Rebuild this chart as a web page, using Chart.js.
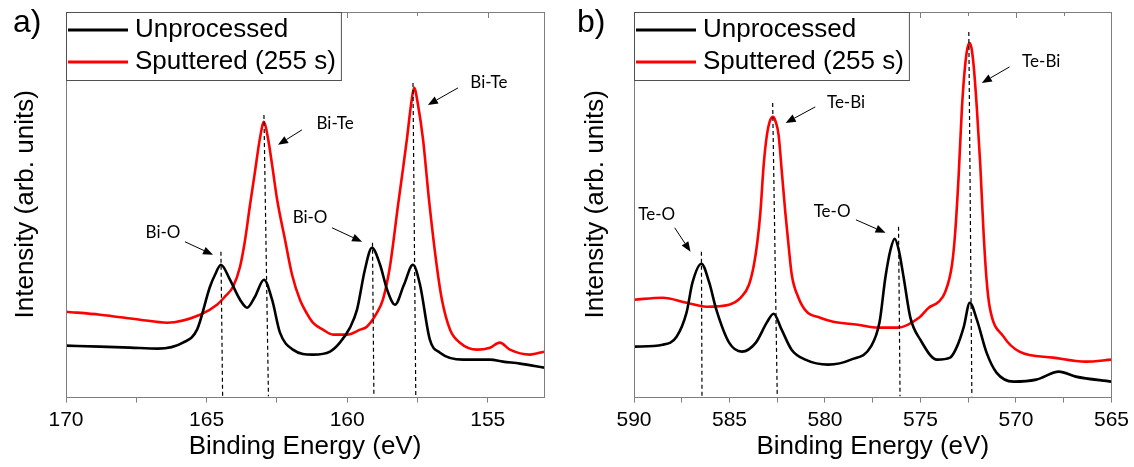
<!DOCTYPE html>
<html>
<head>
<meta charset="utf-8"/>
<title>XPS Bi 4f / Te 3d - unprocessed vs sputtered</title>
<script src="https://cdn.jsdelivr.net/npm/chart.js@4.4.1/dist/chart.umd.min.js"></script>
<style>
  html, body { margin: 0; padding: 0; background: #fff; }
  #wrap { position: relative; width: 1134px; height: 467px; }
  canvas { position: absolute; top: 0; }
  #panelA { left: 0; }
  #panelB { left: 567px; }
</style>
</head>
<body>
<div id="wrap">
  <canvas id="panelA" width="567" height="467"></canvas>
  <canvas id="panelB" width="567" height="467"></canvas>
</div>
<script>
// ---- panel a) Bi 4f ----
const biUnprocE = [170.0, 168.79, 167.72, 166.73, 165.84, 165.34, 164.88, 164.70, 164.49, 164.17, 163.81, 163.56, 163.28, 162.96, 162.67, 162.39, 161.93, 161.22, 160.61, 160.26, 159.90, 159.65, 159.37, 159.12, 158.83, 158.58, 158.30, 157.98, 157.66, 157.41, 157.06, 156.70, 155.88, 154.92, 154.46, 153.85, 153.0];
const biUnprocI = [54, 53, 52, 51, 57, 70, 113, 125, 135, 120, 100, 92, 103, 120, 100, 67, 50, 45, 48, 57, 72, 90, 130, 152, 135, 110, 95, 115, 135, 115, 60, 47, 40, 40, 38, 36, 32];
const biSputE = [170.0, 168.79, 167.37, 166.41, 165.23, 164.63, 164.35, 164.06, 163.81, 163.63, 163.46, 163.28, 163.10, 162.96, 162.82, 162.67, 162.49, 162.21, 161.96, 161.68, 161.43, 161.22, 160.86, 160.50, 160.01, 159.54, 159.30, 158.94, 158.73, 158.48, 158.19, 158.01, 157.87, 157.73, 157.62, 157.48, 157.30, 157.09, 156.81, 156.63, 156.34, 155.99, 155.38, 154.92, 154.57, 154.21, 153.50, 153.0];
const biSputI = [88, 85, 80, 77, 85, 95, 103, 113, 133, 160, 194, 228, 262, 278, 262, 235, 200, 160, 125, 100, 86, 77, 70, 65, 65, 70, 73, 87, 100, 133, 195, 232, 262, 295, 312, 295, 260, 200, 133, 100, 70, 57, 50, 52, 57, 50, 45, 48];
// dashed peak markers: [energy at top, intensity at top, energy at bottom]
const biMarkers = [[164.49, 148, 164.43], [162.96, 285, 162.80], [159.10, 157, 159.05], [157.66, 317, 157.56]];
// labels: text, text energy, text intensity, arrow from (E, I) to (E, I)
const biNotes = [
  ['Bi-O', 166.55, 167, 165.77, 158, 164.77, 145],
  ['Bi-Te', 160.43, 276, 161.61, 270, 162.46, 255],
  ['Bi-O', 161.32, 182, 160.54, 172, 159.47, 158],
  ['Bi-Te', 154.96, 317, 156.06, 312, 157.13, 295]
];

// ---- panel b) Te 3d ----
const teUnprocE = [590.0, 588.50, 587.77, 587.25, 586.94, 586.47, 586.06, 585.69, 585.02, 584.35, 583.62, 583.05, 582.69, 582.27, 581.75, 581.03, 579.83, 578.64, 577.60, 577.14, 576.84, 576.57, 576.35, 576.14, 575.88, 575.53, 575.01, 574.13, 573.45, 573.09, 572.73, 572.42, 572.05, 571.54, 571.02, 570.13, 568.94, 567.75, 566.87, 565.0];
const teUnprocI = [53, 55, 63, 87, 117, 136, 117, 90, 57, 48, 57, 77, 86, 70, 50, 40, 35, 40, 53, 78, 122, 150, 161, 150, 122, 82, 60, 40, 42, 53, 73, 97, 80, 47, 27, 18, 20, 28, 23, 18];
const teSputE = [590.0, 588.50, 587.25, 586.21, 585.02, 584.76, 584.41, 583.98, 583.72, 583.54, 583.38, 583.21, 583.04, 582.90, 582.72, 582.58, 582.43, 582.26, 582.08, 581.91, 581.74, 581.39, 580.96, 580.26, 579.57, 578.28, 577.24, 576.20, 575.08, 574.57, 574.04, 573.70, 573.35, 573.18, 573.00, 572.83, 572.66, 572.54, 572.43, 572.33, 572.22, 572.05, 571.87, 571.70, 571.54, 571.38, 570.65, 569.82, 568.06, 566.35, 565.0];
const teSputI = [100, 102, 97, 93, 95, 97, 102, 115, 135, 158, 188, 235, 265, 278, 283, 278, 265, 228, 188, 155, 125, 102, 88, 82, 78, 75, 72, 72, 82, 92, 98, 108, 135, 168, 225, 292, 335, 352, 357, 352, 335, 292, 235, 168, 120, 93, 63, 48, 42, 38, 40];
const teMarkers = [[586.47, 148, 586.44], [582.74, 297, 582.50], [576.15, 173, 576.07], [572.47, 368, 572.31]];
const teNotes = [
  ['Te-O', 588.81, 185, 587.87, 172, 587.04, 148],
  ['Te-Bi', 578.90, 297, 580.51, 293, 582.06, 277],
  ['Te-O', 579.63, 188, 578.38, 180, 576.83, 167],
  ['Te-Bi', 568.68, 338, 570.34, 333, 571.79, 317]
];

const seriesNames = ['Unprocessed', 'Sputtered (255 s)'];
const seriesColors = ['#000000', '#ff0000'];

Chart.defaults.font.family = '"Liberation Sans", Arial, sans-serif';
Chart.defaults.color = '#000';

function pts(xs, ys) { return xs.map((x, i) => ({ x: x, y: ys[i] })); }
function isMajor(v) { return Math.abs(v / 5 - Math.round(v / 5)) < 1e-6; }

// frame, inward top ticks, peak labels + arrows, in-plot legend, panel letter
const panelDecor = {
  id: 'panelDecor',
  afterDraw(chart, args, o) {
    const ctx = chart.ctx, a = chart.chartArea;
    const xs = chart.scales.x, ys = chart.scales.y;
    ctx.save();
    ctx.strokeStyle = '#7f7f7f';
    ctx.lineWidth = 1;
    ctx.strokeRect(Math.round(a.left) + 0.5, Math.round(a.top) + 0.5, Math.round(a.right - a.left), Math.round(a.bottom - a.top));
    xs.ticks.forEach(t => {
      const px = Math.round(xs.getPixelForValue(t.value)) + 0.5;
      ctx.beginPath();
      ctx.moveTo(px, a.top);
      ctx.lineTo(px, a.top + (isMajor(t.value) ? 6 : 4));
      ctx.stroke();
    });

    // peak labels
    ctx.fillStyle = '#000';
    ctx.strokeStyle = '#000';
    ctx.font = '17px Lato, "Open Sans", sans-serif';
    ctx.textAlign = 'center';
    ctx.textBaseline = 'middle';
    o.notes.forEach(n => {
      ctx.fillText(n[0], xs.getPixelForValue(n[1]), ys.getPixelForValue(n[2]));
      const x1 = xs.getPixelForValue(n[3]), y1 = ys.getPixelForValue(n[4]);
      const x2 = xs.getPixelForValue(n[5]), y2 = ys.getPixelForValue(n[6]);
      const ang = Math.atan2(y2 - y1, x2 - x1), hl = 10, hw = 4;
      const bx = x2 - hl * Math.cos(ang), by = y2 - hl * Math.sin(ang);
      ctx.lineWidth = 1;
      ctx.beginPath();
      ctx.moveTo(x1, y1);
      ctx.lineTo(bx, by);
      ctx.stroke();
      ctx.beginPath();
      ctx.moveTo(x2, y2);
      ctx.lineTo(bx + hw * Math.sin(ang), by - hw * Math.cos(ang));
      ctx.lineTo(bx - hw * Math.sin(ang), by + hw * Math.cos(ang));
      ctx.closePath();
      ctx.fill();
    });

    // legend box in the upper left corner of the plot
    const items = chart.data.datasets.filter(d => d.inLegend);
    ctx.font = '26px "Liberation Sans", Arial, sans-serif';
    ctx.textAlign = 'left';
    let tw = 0;
    items.forEach(d => { tw = Math.max(tw, ctx.measureText(d.label).width); });
    const lx = Math.round(a.left), ly = Math.round(a.top);
    const bw = 69 + tw + 5, bh = 68;
    ctx.fillStyle = '#fff';
    ctx.fillRect(lx, ly, bw, bh);
    ctx.strokeStyle = '#505050';
    ctx.strokeRect(lx + 0.5, ly + 0.5, bw, bh);
    items.forEach((d, i) => {
      const cy = ly + 18 + i * 32;
      ctx.strokeStyle = d.borderColor;
      ctx.lineWidth = 3;
      ctx.beginPath();
      ctx.moveTo(lx + 2, cy);
      ctx.lineTo(lx + 62, cy);
      ctx.stroke();
      ctx.fillStyle = '#000';
      ctx.fillText(d.label, lx + 69, cy);
    });

    ctx.font = '32px "Liberation Sans", Arial, sans-serif';
    ctx.textBaseline = 'alphabetic';
    ctx.fillText(o.letter, o.letterX, 32);
    ctx.restore();
  }
};

function buildPanel(id, p) {
  const datasets = p.markers.map(m => ({
    data: [{ x: m[0], y: m[1] }, { x: m[2], y: 3 }],
    borderColor: '#000', borderWidth: 1.2, borderDash: [4, 3], pointRadius: 0
  }));
  datasets.push({ label: seriesNames[0], inLegend: true, data: pts(p.unprocE, p.unprocI), borderColor: seriesColors[0], borderWidth: 2.6, pointRadius: 0, cubicInterpolationMode: 'monotone' });
  datasets.push({ label: seriesNames[1], inLegend: true, data: pts(p.sputE, p.sputI), borderColor: seriesColors[1], borderWidth: 2.6, pointRadius: 0, cubicInterpolationMode: 'monotone' });

  return new Chart(document.getElementById(id), {
    type: 'line',
    data: { datasets: datasets },
    options: {
      responsive: false,
      animation: false,
      layout: { padding: { left: p.padLeft, right: p.padRight, top: 12, bottom: 3 } },
      plugins: {
        legend: { display: false },
        tooltip: { enabled: false },
        panelDecor: { notes: p.notes, letter: p.letter, letterX: p.letterX }
      },
      scales: {
        x: {
          type: 'linear', reverse: true, min: p.min, max: p.max,
          ticks: {
            stepSize: 2.5, includeBounds: false, autoSkip: false, maxRotation: 0, padding: 5,
            color: '#000', font: { size: 21 },
            callback: v => isMajor(v) ? String(Math.round(v)) : ''
          },
          grid: { drawOnChartArea: false, drawTicks: true, tickLength: 6, color: '#7f7f7f' },
          border: { display: false },
          title: { display: true, text: 'Binding Energy (eV)', color: '#000', font: { size: 26, lineHeight: 0.7 }, padding: { top: 0, bottom: 8 } }
        },
        y: {
          min: 3, max: 388,
          ticks: { display: false },
          grid: { display: false },
          border: { display: false },
          title: { display: true, text: 'Intensity (arb. units)', color: '#000', font: { size: 26 }, padding: { top: 4, bottom: p.titleGap } }
        }
      }
    },
    plugins: [panelDecor]
  });
}

buildPanel('panelA', {
  unprocE: biUnprocE, unprocI: biUnprocI, sputE: biSputE, sputI: biSputI,
  markers: biMarkers, notes: biNotes, min: 153, max: 170,
  padLeft: 6.5, padRight: 23, titleGap: 16.3, letter: 'a)', letterX: 13
});
buildPanel('panelB', {
  unprocE: teUnprocE, unprocI: teUnprocI, sputE: teSputE, sputI: teSputI,
  markers: teMarkers, notes: teNotes, min: 565, max: 590,
  padLeft: 9.5, padRight: 18, titleGap: 14.3, letter: 'b)', letterX: 10
});
</script>
</body>
</html>
